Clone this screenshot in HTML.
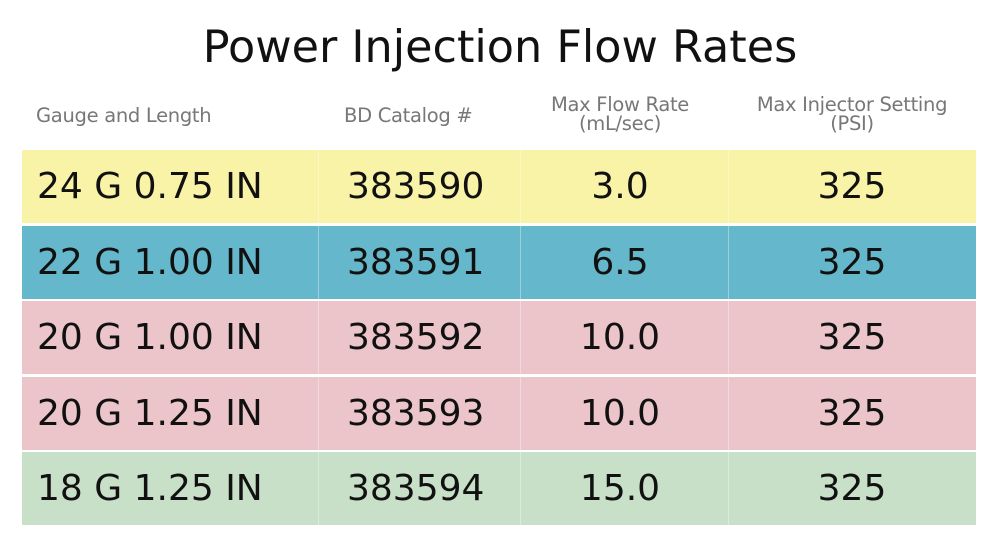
<!DOCTYPE html>
<html><head><meta charset="utf-8"><style>
body{margin:0;width:1000px;height:554px;background:#fff;position:relative;overflow:hidden;font-family:"DejaVu Sans","Liberation Sans",sans-serif;}
.t{position:absolute;white-space:nowrap;}
#title{left:0;width:1000px;text-align:center;top:22px;font-size:44.5px;color:#111;}
.h{color:#777;font-size:19.5px;line-height:19px;text-align:center;letter-spacing:-0.3px;}
.row{position:absolute;left:22px;width:954px;height:73px;}
.c{position:absolute;top:0;line-height:73px;font-size:36px;color:#111;white-space:nowrap;}
.sep{position:absolute;top:0;width:1px;height:73px;background:rgba(255,255,255,0.35);}
</style></head><body>
<div class="t" id="title">Power Injection Flow Rates</div>
<div class="t h" style="left:36px;top:106px;text-align:left">Gauge and Length</div>
<div class="t h" style="left:344px;top:106px;text-align:left">BD Catalog #</div>
<div class="t h" style="left:520px;width:200px;top:95px">Max Flow Rate<br>(mL/sec)</div>
<div class="t h" style="left:732px;width:240px;top:95px">Max Injector Setting<br>(PSI)</div>
<div id="rows"></div>
<script>
const gauges=["24 G 0.75 IN","22 G 1.00 IN","20 G 1.00 IN","20 G 1.25 IN","18 G 1.25 IN"];
const catalogs=["383590","383591","383592","383593","383594"];
const flows=["3.0","6.5","10.0","10.0","15.0"];
const psi=["325","325","325","325","325"];
const colors=["#f9f3a7","#65b8cb","#ecc5cb","#ecc5cb","#c8dfc8"];
const root=document.getElementById('rows');
gauges.forEach((g,i)=>{
  const r=document.createElement('div');
  r.className='row';
  
  
  r.style.top=(150+i*75.5)+'px';
  r.style.background=colors[i];
  r.innerHTML='<div class="sep" style="left:296px"></div><div class="sep" style="left:498px"></div><div class="sep" style="left:706px"></div>';
  const cells=[[g,15,null],[catalogs[i],325,null],[flows[i],498,200],[psi[i],720,220]];
  cells.forEach(([txt,x,w],j)=>{
    const c=document.createElement('div');
    c.className='c';
    
    
    c.textContent=txt;
    c.style.left=x+'px';
    if(w){c.style.width=w+'px';c.style.textAlign='center';}
    r.appendChild(c);
  });
  root.appendChild(r);
});
</script>
</body></html>
